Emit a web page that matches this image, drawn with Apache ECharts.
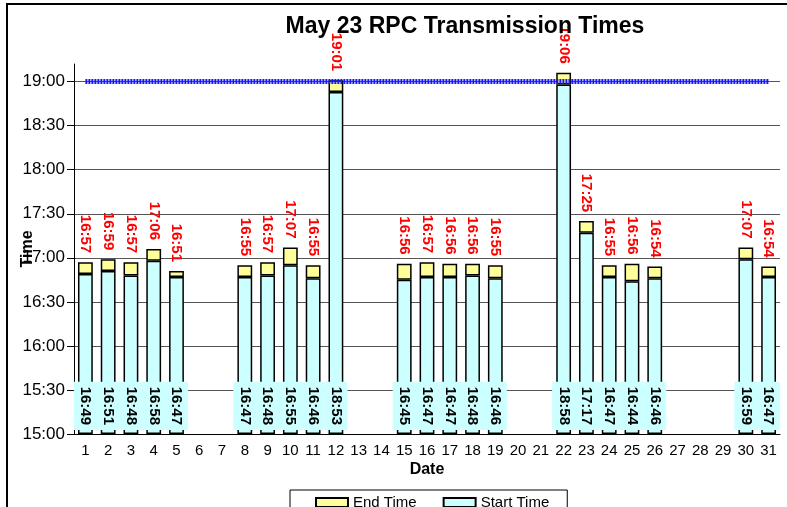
<!DOCTYPE html>
<html>
<head>
<meta charset="utf-8">
<script src="https://cdn.jsdelivr.net/npm/echarts@6/dist/echarts.min.js"></script>
<style>
  html, body { margin: 0; padding: 0; background: #fff; overflow: hidden; }
  #frame { position: absolute; left: 6px; top: 3px; width: 900px; height: 600px; border: 2px solid #000; box-sizing: border-box; }
  #chart { position: absolute; left: 0; top: 0; width: 787px; height: 507px; }
</style>
</head>
<body>
<div id="frame"></div>
<div id="chart"></div>
<script>
// days of the month
const days = Array.from({ length: 31 }, (_, i) => String(i + 1));

// start / end times per day ('' = no run)
const startTimes = ['16:49', '16:51', '16:48', '16:58', '16:47', '', '', '16:47', '16:48', '16:55', '16:46', '18:53', '', '',
  '16:45', '16:47', '16:47', '16:48', '16:46', '', '', '18:58', '17:17', '16:47', '16:44', '16:46', '', '', '', '16:59', '16:47'];
const endTimes = ['16:57', '16:59', '16:57', '17:06', '16:51', '', '', '16:55', '16:57', '17:07', '16:55', '19:01', '', '',
  '16:56', '16:57', '16:56', '16:56', '16:55', '', '', '19:06', '17:25', '16:55', '16:56', '16:54', '', '', '', '17:07', '16:54'];

// deadline line (19:00) across all days
const deadline = Array(31).fill('19:00');

// axis base 15:00, top 19:12, step 30 min
const baseTime = '15:00';
const topTime = '19:12';
const stepMin = 30;

const font = 'Liberation Sans, Arial, sans-serif';

function toMin(t) {
  if (!t) return null;
  const [h, m] = t.split(':').map(Number);
  return h * 60 + m;
}
const base = toMin(baseTime);
const fmt = v => {
  const t = base + v;
  return Math.floor(t / 60) + ':' + String(t % 60).padStart(2, '0');
};

const startVals = startTimes.map(t => (t ? toMin(t) - base : '-'));
const endVals = endTimes.map((t, i) => (t ? toMin(t) - toMin(startTimes[i]) : '-'));
const lineVals = deadline.map(t => toMin(t) - base);

const chart = echarts.init(document.getElementById('chart'));
chart.setOption({
  animation: false,
  textStyle: { fontFamily: font },
  title: {
    text: 'May 23 RPC Transmission Times',
    left: 460, top: 10, textAlign: 'center',
    textStyle: { fontSize: 23, fontWeight: 'bold', color: '#000', fontFamily: font }
  },
  legend: {
    data: ['End Time', 'Start Time'],
    left: 290, top: 490,
    itemWidth: 32, itemHeight: 9, itemGap: 26,
    padding: [5, 18, 6, 25],
    borderColor: '#000', borderWidth: 1,
    icon: 'rect',
    textStyle: { fontSize: 15, color: '#000', fontFamily: font }
  },
  grid: { left: 74, right: 7, top: 64, bottom: 73, outerBoundsMode: 'none', containLabel: false },
  xAxis: {
    type: 'category',
    data: days,
    name: 'Date',
    nameLocation: 'middle',
    nameGap: 28,
    nameMoveOverlap: false,
    nameTextStyle: { fontSize: 16, fontWeight: 'bold', color: '#000' },
    axisLine: { lineStyle: { color: '#000', width: 1 } },
    axisTick: { length: 6, lineStyle: { color: '#000' } },
    axisLabel: { fontSize: 15, color: '#000', margin: 9, interval: 0 }
  },
  yAxis: {
    type: 'value',
    min: 0, max: toMin(topTime) - base, interval: stepMin,
    name: 'Time',
    nameLocation: 'middle',
    nameRotate: 90,
    nameGap: 38,
    nameMoveOverlap: false,
    nameTextStyle: { fontSize: 16, fontWeight: 'bold', color: '#000' },
    axisLine: { show: true, lineStyle: { color: '#000', width: 1 } },
    axisTick: { show: true, length: 7, lineStyle: { color: '#000' } },
    axisLabel: { fontSize: 17, color: '#000', margin: 9, showMaxLabel: false, formatter: fmt },
    splitLine: { show: true, showMaxLine: false, lineStyle: { color: '#555', width: 1 } }
  },
  series: [
    {
      name: 'Start Time',
      type: 'bar',
      stack: 'run',
      barWidth: '65%',
      data: startVals,
      itemStyle: { color: '#ccffff', borderColor: '#000', borderWidth: 1.5 },
      label: {
        show: true,
        position: 'insideBottom',
        distance: 4,
        rotate: -90,
        align: 'right',
        verticalAlign: 'middle',
        fontSize: 15,
        fontWeight: 'bold',
        color: '#000',
        backgroundColor: '#ccffff',
        padding: [4, 5],
        formatter: p => startTimes[p.dataIndex]
      },
      z: 2
    },
    {
      name: 'End Time',
      type: 'bar',
      stack: 'run',
      barWidth: '65%',
      data: endVals,
      itemStyle: { color: '#ffff99', borderColor: '#000', borderWidth: 1.5 },
      label: {
        show: true,
        position: 'top',
        distance: 9,
        rotate: -90,
        align: 'right',
        verticalAlign: 'middle',
        fontSize: 15,
        fontWeight: 'bold',
        color: '#ff0000',
        formatter: p => endTimes[p.dataIndex]
      },
      z: 2
    },
    {
      name: 'Deadline',
      type: 'line',
      data: lineVals,
      symbol: 'none',
      lineStyle: { color: '#1515ff', width: 5, type: [2, 1] },
      z: 5
    }
  ]
});
</script>
</body>
</html>
